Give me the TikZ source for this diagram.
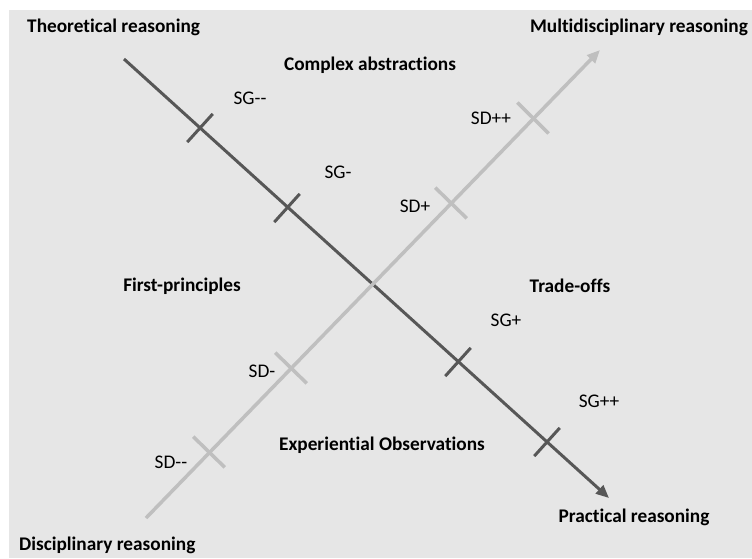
\documentclass[tikz,border=0pt]{standalone}
\usepackage{fontspec}
\setmainfont{Carlito}[Ligatures={NoCommon}]
\usetikzlibrary{arrows.meta,calc}

\definecolor{sgcol}{HTML}{575757}
\definecolor{sdcol}{HTML}{BFBFBF}
\definecolor{bgcol}{HTML}{E6E6E6}

\tikzset{
  lbl/.style={font=\fontsize{19.3}{23}\selectfont,inner sep=0pt},
  axislbl/.style={font=\fontsize{19.3}{23}\selectfont\bfseries,inner sep=0pt},
  sgline/.style={draw=sgcol,line width=3pt},
  sdline/.style={draw=sdcol,line width=3.5pt},
  tiparrow/.style={-{Triangle[length=13pt,width=11pt]}}
}

\begin{document}
\begin{tikzpicture}[x=1pt,y=-1pt]
  \useasboundingbox (0,0) rectangle (752,558);
  \fill[bgcol] (9,10) rectangle (752,558);

  \coordinate (sgstart) at (124,59);
  \coordinate (sgend) at (609,498);
  \coordinate (sdstart) at (146,518);
  \coordinate (sdend) at (600,50);

  \coordinate (sg1) at (200,128);
  \coordinate (sg2) at (287,208);
  \coordinate (sg3) at (458,362);
  \coordinate (sg4) at (547,442);
  \coordinate (sd1) at (209,452);
  \coordinate (sd2) at (291,368);
  \coordinate (sd3) at (451,203);
  \coordinate (sd4) at (533,118);

  \draw[sgline,tiparrow] (sgstart) -- (sgend);
  \foreach \t in {sg1,sg2,sg3,sg4}
    \draw[sgline] ($(\t)!19pt!90:(sgend)$) -- ($(\t)!19pt!-90:(sgend)$);

  \draw[sdline,tiparrow] (sdstart) -- (sdend);
  \foreach \t in {sd1,sd2,sd3,sd4}
    \draw[sdline] ($(\t)!22pt!90:(sdend)$) -- ($(\t)!22pt!-90:(sdend)$);

  \node[axislbl,anchor=west] (theo) at (27,27) {Theoretical reasoning};
  \node[axislbl,anchor=east] (multi) at (748,27) {Multidisciplinary reasoning};
  \node[axislbl,anchor=west] (disc) at (19,545) {Disciplinary reasoning};
  \node[axislbl] (prac) at (634,517) {Practical reasoning};

  \node[axislbl] (complex) at (370,65) {Complex abstractions};
  \node[axislbl] (first) at (182,286) {First-principles};
  \node[axislbl] (trade) at (570,286) {Trade-offs};
  \node[axislbl] (exper) at (382,445) {Experiential Observations};

  \node[lbl] (sgmm) at (250,98) {SG-{}-};
  \node[lbl] (sgm) at (338,172) {SG-};
  \node[lbl] (sgp) at (506,320) {SG+};
  \node[lbl] (sgpp) at (599,401) {SG++};
  \node[lbl] (sdpp) at (491,118) {SD++};
  \node[lbl] (sdp) at (415,206) {SD+};
  \node[lbl] (sdm) at (262,371) {SD-};
  \node[lbl] (sdmm) at (171,462) {SD-{}-};
\end{tikzpicture}
\end{document}
